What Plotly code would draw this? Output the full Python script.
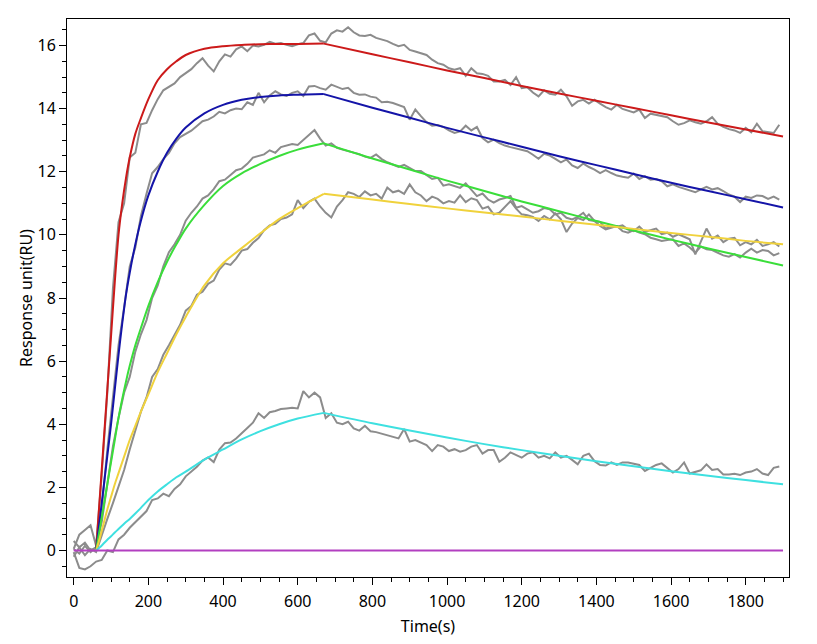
import plotly.graph_objects as go

# sampling time of the recorded sensorgrams (s)
sample_time = list(range(0, 1891, 15))

# recorded responses (RU), one per concentration, highest first
raw_red = [
    0.05, 0.5, 0.65, 0.8, 0.15, 2.4, 5.0, 8.3, 10.4, 11.0,
    12.45, 12.6, 13.5, 13.55, 13.95, 14.3, 14.58, 14.68, 14.8, 15.0,
    15.12, 15.25, 15.44, 15.6, 15.36, 15.18, 15.5, 15.72, 15.65, 15.88,
    15.97, 15.82, 16.0, 15.97, 16.02, 16.12, 16.06, 16.08, 16.02, 15.98,
    16.04, 16.08, 16.32, 16.38, 16.15, 16.1, 16.38, 16.48, 16.44, 16.58,
    16.42, 16.32, 16.3, 16.34, 16.24, 16.2, 16.14, 16.05, 15.98, 16.02,
    15.86, 15.81, 15.76, 15.7, 15.55, 15.44, 15.39, 15.28, 15.23, 15.28,
    15.04, 15.28, 15.12, 15.1, 15.04, 14.86, 14.86, 14.91, 14.75, 15.0,
    14.65, 14.68, 14.51, 14.39, 14.58, 14.47, 14.44, 14.6, 14.39, 14.09,
    14.23, 14.28, 14.16, 14.28, 14.16, 14.05, 13.97, 14.12, 13.99, 13.94,
    13.88, 13.97, 13.7, 13.84, 13.81, 13.76, 13.73, 13.6, 13.49, 13.54,
    13.63, 13.57, 13.52, 13.6, 13.73, 13.52, 13.42, 13.35, 13.31, 13.23,
    13.39, 13.25, 13.52, 13.28, 13.25, 13.23, 13.49,
]
raw_blue = [
    0.3, 0.1, 0.25, 0.0, 0.1, 1.3, 3.2, 4.9, 6.5, 7.7,
    9.0, 9.6, 10.6, 11.3, 11.95, 12.15, 12.4, 12.6, 12.9, 13.1,
    13.2, 13.3, 13.45, 13.6, 13.65, 13.75, 13.9, 13.85, 13.95, 14.0,
    13.98, 14.2, 14.12, 14.5, 14.2, 14.42, 14.55, 14.45, 14.4, 14.5,
    14.55, 14.4, 14.7, 14.72, 14.65, 14.6, 14.76, 14.7, 14.62, 14.66,
    14.5, 14.44, 14.45, 14.38, 14.35, 14.2, 14.22, 14.18, 14.12, 14.05,
    13.65, 13.97, 13.76, 13.57, 13.46, 13.48, 13.42, 13.31, 13.23, 13.28,
    13.46, 13.31, 13.42, 13.07, 12.93, 13.02, 12.91, 12.83, 12.78, 12.73,
    12.7, 12.65, 12.54, 12.41, 12.57, 12.51, 12.41, 12.3, 12.39, 12.2,
    12.12, 12.26, 12.15, 12.07, 11.96, 12.05, 11.96, 11.88, 11.84, 11.81,
    11.94, 11.77, 11.86, 11.75, 11.77, 11.7, 11.54, 11.6, 11.52, 11.46,
    11.39, 11.35, 11.44, 11.52, 11.44, 11.48, 11.39, 11.28, 11.21, 11.04,
    11.21, 11.17, 11.25, 11.23, 11.14, 11.21, 11.12,
]
raw_green = [
    0.05, -0.1, 0.15, -0.05, 0.1, 0.9, 2.1, 3.3, 4.2, 5.0,
    5.5, 6.3, 6.85, 7.3, 8.0, 8.4, 9.0, 9.45, 9.7, 10.0,
    10.45, 10.7, 10.9, 11.15, 11.25, 11.45, 11.7, 11.75, 11.9, 12.05,
    12.1, 12.25, 12.45, 12.5, 12.55, 12.68, 12.6, 12.78, 12.82, 12.88,
    12.85, 13.0, 13.15, 13.32, 13.05, 12.83, 12.9, 12.76, 12.7, 12.66,
    12.62, 12.56, 12.48, 12.44, 12.55, 12.4, 12.3, 12.22, 12.15, 12.22,
    12.12, 12.02, 12.02, 11.88, 11.77, 11.81, 11.56, 11.6, 11.54, 11.49,
    11.63, 11.42, 11.23, 11.31, 11.12, 11.02, 11.12, 11.17, 11.23, 10.86,
    10.91, 10.81, 10.7, 10.75, 10.85, 10.81, 10.65, 10.7, 10.54, 10.49,
    10.57, 10.7, 10.47, 10.44, 10.28, 10.17, 10.23, 10.28, 10.12, 10.07,
    10.15, 10.07, 10.02, 9.91, 9.86, 9.81, 9.84, 9.86, 9.65, 9.73,
    9.6, 9.44, 9.63, 9.54, 9.52, 9.44, 9.35, 9.31, 9.39, 9.28,
    9.44, 9.56, 9.44, 9.52, 9.49, 9.35, 9.42,
]
raw_yellow = [
    -0.2, 0.1, -0.15, 0.05, -0.05, 0.5, 1.0, 1.5, 2.0, 2.55,
    3.2, 3.8, 4.4, 4.85, 5.5, 5.75, 6.2, 6.5, 6.85, 7.15,
    7.6, 7.75, 8.1, 8.2, 8.45, 8.55, 8.9, 9.1, 9.05, 9.25,
    9.5, 9.55, 9.75, 9.9, 10.15, 10.3, 10.35, 10.5, 10.55, 10.65,
    11.1, 10.85, 11.05, 11.15, 10.9, 10.7, 10.55, 10.9, 11.1, 11.35,
    11.3, 11.2, 11.38, 11.25, 11.3, 11.15, 11.5, 11.35, 11.4, 11.3,
    11.6, 11.35, 11.25, 11.07, 11.21, 11.14, 11.0, 11.07, 11.02, 11.25,
    11.04, 11.16, 11.1, 10.83, 10.89, 10.65, 10.7, 10.89, 11.07, 10.83,
    10.65, 10.62, 10.57, 10.44, 10.6, 10.49, 10.68, 10.49, 10.09, 10.36,
    10.53, 10.47, 10.65, 10.44, 10.41, 10.2, 10.28, 10.26, 10.3, 10.17,
    10.12, 10.26, 10.09, 10.15, 10.2, 10.02, 10.07, 9.94, 10.02, 9.94,
    9.86, 9.38, 9.77, 10.2, 9.88, 9.98, 9.77, 9.88, 9.91, 9.67,
    9.77, 9.7, 9.84, 9.65, 9.7, 9.77, 9.63,
]
raw_cyan = [
    -0.05, -0.55, -0.6, -0.5, -0.35, -0.3, 0.0, -0.05, 0.35, 0.5,
    0.72, 0.9, 1.1, 1.25, 1.6, 1.65, 1.8, 1.72, 1.95, 2.1,
    2.35, 2.5, 2.65, 2.85, 2.95, 2.8, 3.2, 3.4, 3.42, 3.55,
    3.7, 3.88, 4.05, 4.35, 4.2, 4.38, 4.42, 4.48, 4.5, 4.52,
    4.5, 5.05, 4.85, 5.0, 4.85, 4.2, 4.35, 4.05, 4.0, 4.08,
    3.87, 3.8, 3.95, 3.78, 3.75, 3.7, 3.65, 3.6, 3.55, 3.85,
    3.45, 3.5, 3.42, 3.34, 3.15, 3.34, 3.29, 3.15, 3.21, 3.13,
    3.18, 3.29, 3.34, 3.07, 3.18, 3.18, 2.81, 2.94, 3.11, 3.02,
    2.94, 3.07, 3.11, 2.94, 3.0, 2.92, 3.11, 2.94, 3.0, 2.87,
    2.73, 3.0, 3.07, 2.83, 2.71, 2.69, 2.79, 2.71, 2.79, 2.79,
    2.75, 2.71, 2.52, 2.62, 2.71, 2.76, 2.6, 2.47, 2.58, 2.79,
    2.44, 2.5, 2.54, 2.73, 2.55, 2.58, 2.41, 2.41, 2.43, 2.39,
    2.47, 2.5, 2.58, 2.44, 2.39, 2.62, 2.66,
]

# fitted curves (association 60-670 s, dissociation 670-1900 s)
fit_time = [60, 70, 80, 90, 100, 110, 120, 130, 140, 150,
            165, 180, 200, 225, 250, 275, 300, 350, 400, 450,
            500, 550, 600, 670, 800, 900, 1000, 1100, 1200, 1300,
            1400, 1500, 1600, 1700, 1800, 1900]
fit_red = [0, 1.7, 3.4, 5.1, 6.8, 8.5, 10.0, 11.0, 11.8, 12.45,
           13.2, 13.7, 14.3, 14.9, 15.25, 15.5, 15.7, 15.9, 15.98, 16.02,
           16.04, 16.05, 16.05, 16.06, 15.72, 15.47, 15.21, 14.97, 14.72, 14.48,
           14.25, 14.02, 13.79, 13.56, 13.34, 13.12]
fit_blue = [0, 1.0, 2.0, 3.0, 4.0, 5.1, 6.2, 7.2, 8.1, 8.8,
            9.7, 10.45, 11.25, 12.0, 12.6, 13.05, 13.4, 13.85, 14.12, 14.28,
            14.37, 14.42, 14.44, 14.46, 14.03, 13.71, 13.39, 13.09, 12.79, 12.49,
            12.21, 11.93, 11.65, 11.39, 11.13, 10.87]
fit_green = [0, 0.7, 1.4, 2.1, 2.8, 3.5, 4.2, 4.8, 5.35, 5.85,
             6.5, 7.05, 7.75, 8.5, 9.15, 9.7, 10.2, 10.95, 11.55, 11.95,
             12.25, 12.5, 12.7, 12.9, 12.42, 12.07, 11.72, 11.39, 11.06, 10.75,
             10.44, 10.14, 9.85, 9.57, 9.30, 9.03]
fit_yellow = [0, 0.4, 0.85, 1.3, 1.7, 2.1, 2.45, 2.8, 3.15, 3.5,
              3.95, 4.4, 4.95, 5.65, 6.25, 6.85, 7.4, 8.4, 9.1, 9.58,
              10.05, 10.5, 10.85, 11.3, 11.12, 10.98, 10.84, 10.71, 10.58, 10.45,
              10.32, 10.19, 10.06, 9.94, 9.81, 9.70]
fit_cyan = [0, 0.1, 0.22, 0.34, 0.45, 0.57, 0.68, 0.79, 0.9, 1.0,
            1.17, 1.35, 1.6, 1.87, 2.1, 2.32, 2.5, 2.88, 3.2, 3.52,
            3.78, 4.0, 4.18, 4.36, 4.03, 3.8, 3.58, 3.37, 3.18, 3.0,
            2.83, 2.67, 2.51, 2.37, 2.23, 2.10]
blank_time = [0, 1900]
blank_fit = [0, 0]

# index of the end of injection (670 s) in fit_time
inj_end = fit_time.index(670)

fig = go.Figure()

for ys in [raw_red, raw_blue, raw_green, raw_yellow, raw_cyan]:
    fig.add_trace(go.Scatter(x=sample_time, y=ys, mode="lines",
                             line=dict(color="#8c8c8c", width=2)))

fits = [
    (fit_red, "#cc1a1a"),
    (fit_blue, "#1414a8"),
    (fit_green, "#3ade3a"),
    (fit_yellow, "#f0d23c"),
    (fit_cyan, "#3ee0e0"),
]
for ys, col in fits:
    # association and dissociation phases drawn separately to keep the kink
    fig.add_trace(go.Scatter(x=fit_time[:inj_end + 1], y=ys[:inj_end + 1],
                             mode="lines",
                             line=dict(color=col, width=2, shape="spline", smoothing=0.8)))
    fig.add_trace(go.Scatter(x=fit_time[inj_end:], y=ys[inj_end:],
                             mode="lines",
                             line=dict(color=col, width=2, shape="spline", smoothing=0.8)))

fig.add_trace(go.Scatter(x=blank_time, y=blank_fit, mode="lines",
                         line=dict(color="#b23fc0", width=2)))

axis_style = dict(
    showline=True, linecolor="black", linewidth=1, mirror=True,
    ticks="outside", ticklen=7, tickwidth=1, tickcolor="black",
    showgrid=False, zeroline=False,
    tickfont=dict(size=16),
)

fig.update_layout(
    width=817, height=644,
    margin=dict(l=67, r=28, t=19, b=65),
    paper_bgcolor="white", plot_bgcolor="white",
    font=dict(family="Noto Sans", size=16, color="black"),
    showlegend=False,
    xaxis=dict(range=[-18, 1916], tick0=0, dtick=200, ticklabelstandoff=3,
               minor=dict(dtick=50, ticklen=4, ticks="outside", tickcolor="black"),
               title=dict(text="Time(s)", font=dict(size=16), standoff=9),
               **axis_style),
    yaxis=dict(range=[-0.84, 16.84], tick0=0, dtick=2,
               minor=dict(dtick=0.5, ticklen=4, ticks="outside", tickcolor="black"),
               title=dict(text="Response unit(RU)", font=dict(size=16), standoff=0),
               **axis_style),
)

fig.write_html("out.html", config={"displayModeBar": False},
               post_script="document.body.style.margin='0';")
